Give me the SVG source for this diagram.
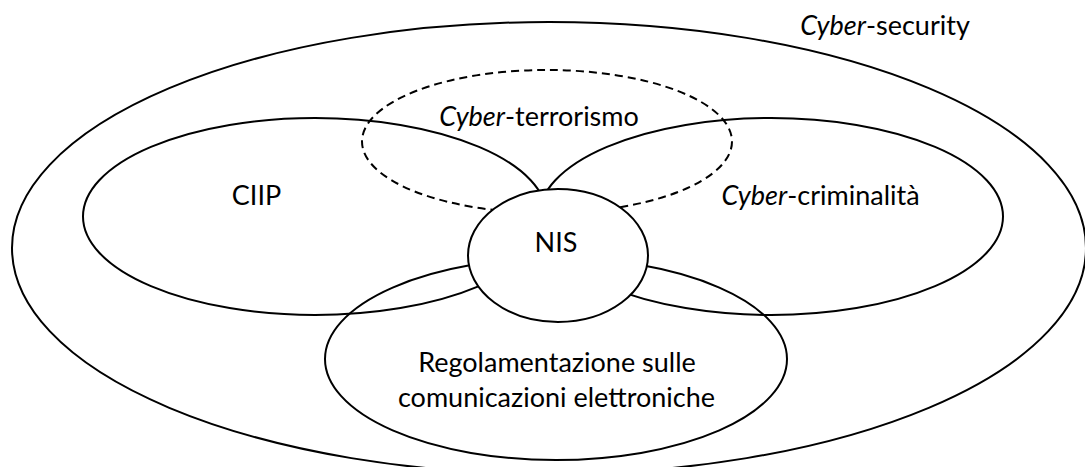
<svg xmlns="http://www.w3.org/2000/svg" width="1085" height="467" viewBox="0 0 1085 467">
<style>
.o{fill:none;stroke:#000;stroke-width:2}
.d{fill:none;stroke:#000;stroke-width:2;stroke-dasharray:8 5}
.w{fill:#fff;stroke:#000;stroke-width:2}
text{font-family:Lato,"Open Sans","Liberation Sans",sans-serif;font-size:27px;fill:#000;text-anchor:middle}
.i{font-style:italic}
</style>
<rect width="1085" height="467" fill="#fff"/>
<g id="cybersecurity">
<ellipse class="o" cx="549" cy="248" rx="537" ry="226"/>
<text x="885" y="35"><tspan class="i">Cyber</tspan>-security</text>
</g>
<g id="cyberterrorismo">
<ellipse class="d" cx="547" cy="141.5" rx="185" ry="71.5"/>
<text x="539" y="126"><tspan class="i">Cyber</tspan>-terrorismo</text>
</g>
<g id="ciip">
<ellipse class="o" cx="315" cy="216.5" rx="232" ry="98.5"/>
<text x="256.5" y="205">CIIP</text>
</g>
<g id="cybercriminalita">
<ellipse class="o" cx="771" cy="216.5" rx="232" ry="98.5"/>
<text x="820.5" y="205"><tspan class="i">Cyber</tspan>-criminalità</text>
</g>
<g id="regolamentazione">
<ellipse class="o" cx="556" cy="359" rx="231" ry="101"/>
<text x="557" y="372">Regolamentazione sulle</text>
<text x="556.5" y="407">comunicazioni elettroniche</text>
</g>
<g id="nis">
<ellipse class="w" cx="558" cy="255.5" rx="90" ry="66.5"/>
<text x="556" y="252">NIS</text>
</g>
<g id="connectors"></g>
</svg>
